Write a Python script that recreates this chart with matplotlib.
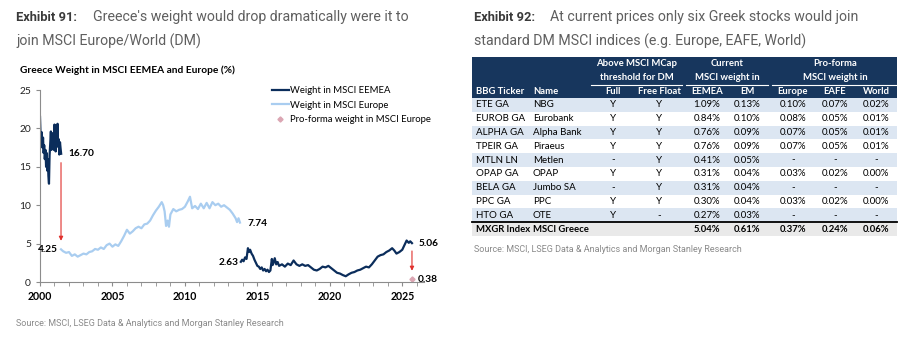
import matplotlib
matplotlib.use('Agg')
import matplotlib.pyplot as plt
from matplotlib import font_manager
from matplotlib.patches import Rectangle

W, H = 912, 354

# ---- chart data (decimal years, % weight) ----
eemea_early_x = [2000.0, 2000.04, 2000.08, 2000.12, 2000.17, 2000.21, 2000.25, 2000.29, 2000.33,
                 2000.38, 2000.42, 2000.46, 2000.5, 2000.54, 2000.58, 2000.62, 2000.66, 2000.7,
                 2000.75, 2000.79, 2000.83, 2000.88, 2000.92, 2000.96, 2001.0, 2001.04, 2001.08,
                 2001.13, 2001.17, 2001.21, 2001.25, 2001.29, 2001.33, 2001.38, 2001.42, 2001.46]
eemea_early_y = [21.5, 19.0, 18.2, 19.5, 17.5, 18.8, 16.8, 17.8, 16.0,
                 17.2, 15.0, 16.8, 14.5, 16.0, 13.8, 12.8, 16.5, 17.8,
                 19.6, 17.2, 19.4, 17.8, 19.0, 17.2, 20.5, 18.0, 17.0,
                 20.4, 18.4, 20.6, 17.6, 18.6, 16.6, 18.2, 17.4, 16.7]

europe_x = [2001.45, 2001.6, 2001.8, 2002.0, 2002.2, 2002.4, 2002.6, 2002.8, 2003.0, 2003.2,
            2003.4, 2003.6, 2003.8, 2004.0, 2004.2, 2004.4, 2004.6, 2004.8, 2005.0, 2005.2,
            2005.4, 2005.6, 2005.8, 2006.0, 2006.2, 2006.4, 2006.6, 2006.8, 2007.0, 2007.2,
            2007.4, 2007.6, 2007.8, 2008.0, 2008.2, 2008.4, 2008.5, 2008.6, 2008.7, 2008.8,
            2008.9, 2009.0, 2009.2, 2009.4, 2009.6, 2009.8, 2010.0, 2010.2, 2010.35, 2010.5,
            2010.7, 2010.9, 2011.1, 2011.3, 2011.5, 2011.7, 2011.9, 2012.1, 2012.3, 2012.5,
            2012.7, 2012.9, 2013.1, 2013.3, 2013.5, 2013.6, 2013.7, 2013.8]
europe_y = [4.25, 4.0, 3.8, 3.9, 3.4, 3.6, 3.3, 3.5, 3.7, 3.6,
            3.9, 4.0, 4.3, 4.2, 4.5, 4.3, 4.8, 5.0, 4.6, 4.9,
            4.7, 5.3, 6.0, 6.8, 6.3, 6.6, 7.0, 7.2, 7.0, 7.5,
            7.6, 8.0, 8.7, 9.3, 9.8, 10.4, 10.0, 9.2, 7.3, 8.0,
            7.2, 8.8, 9.5, 9.2, 9.4, 9.5, 9.8, 10.5, 11.1, 9.6,
            9.9, 9.5, 10.2, 9.6, 10.3, 9.6, 10.4, 10.0, 10.2, 9.8,
            10.0, 9.7, 9.4, 8.9, 8.3, 7.8, 8.3, 7.74]

eemea_late_x = [2013.86, 2013.95, 2014.05, 2014.15, 2014.25, 2014.35, 2014.42, 2014.5, 2014.6, 2014.7,
                2014.8, 2014.9, 2015.0, 2015.1, 2015.2, 2015.3, 2015.4, 2015.5, 2015.6, 2015.7,
                2015.8, 2015.9, 2016.0, 2016.05, 2016.1, 2016.2, 2016.3, 2016.4, 2016.5, 2016.7,
                2016.9, 2017.1, 2017.3, 2017.5, 2017.7, 2017.9, 2018.1, 2018.3, 2018.5, 2018.7,
                2018.9, 2019.1, 2019.3, 2019.5, 2019.7, 2019.9, 2020.1, 2020.3, 2020.5, 2020.7,
                2020.9, 2021.1, 2021.3, 2021.5, 2021.7, 2021.9, 2022.1, 2022.3, 2022.5, 2022.7,
                2022.9, 2023.1, 2023.3, 2023.5, 2023.7, 2023.9, 2024.1, 2024.3, 2024.45, 2024.6,
                2024.8, 2025.0, 2025.15, 2025.3, 2025.45, 2025.55, 2025.67]
eemea_late_y = [2.63, 2.9, 2.7, 3.2, 3.0, 4.4, 3.9, 4.2, 3.7, 3.4,
                2.9, 2.5, 2.1, 2.0, 1.7, 1.9, 1.5, 1.7, 1.4, 1.6,
                1.3, 1.5, 3.0, 2.2, 2.4, 3.1, 2.3, 2.6, 2.1, 2.3,
                2.0, 2.4, 2.2, 2.8, 2.3, 2.1, 2.3, 2.1, 2.2, 1.9,
                1.6, 1.5, 1.7, 2.0, 1.9, 2.1, 1.8, 1.5, 1.2, 1.1,
                0.9, 0.75, 1.0, 1.2, 1.3, 1.5, 1.6, 1.8, 2.0, 1.9,
                2.3, 2.8, 3.3, 3.5, 3.6, 3.9, 4.1, 4.4, 4.1, 3.7,
                3.9, 4.2, 4.8, 5.4, 5.1, 5.3, 5.06]

proforma_x = [2025.7]
proforma_y = [0.38]

# ---- table data ----
tickers = ['ETE GA', 'EUROB GA', 'ALPHA GA', 'TPEIR GA', 'MTLN LN', 'OPAP GA', 'BELA GA', 'PPC GA', 'HTO GA']
names = ['NBG', 'Eurobank', 'Alpha Bank', 'Piraeus', 'Metlen', 'OPAP', 'Jumbo SA', 'PPC', 'OTE']
full = ['Y', 'Y', 'Y', 'Y', '-', 'Y', '-', 'Y', 'Y']
free_float = ['Y', 'Y', 'Y', 'Y', 'Y', 'Y', 'Y', 'Y', '-']
w_eemea = [1.09, 0.84, 0.76, 0.76, 0.41, 0.31, 0.31, 0.30, 0.27]
w_em = [0.13, 0.10, 0.09, 0.09, 0.05, 0.04, 0.04, 0.04, 0.03]
w_europe = [0.10, 0.08, 0.07, 0.07, None, 0.03, None, 0.03, None]
w_eafe = [0.07, 0.05, 0.05, 0.05, None, 0.02, None, 0.02, None]
w_world = [0.02, 0.01, 0.01, 0.01, None, 0.00, None, 0.00, None]
total_row = ['MXGR Index', 'MSCI Greece', '', '', 5.04, 0.61, 0.37, 0.24, 0.06]

NAVY = '#0b2d5b'
LIGHT = '#a9cdf0'
RED = '#e0302c'

# narrow face for the table if there is one, otherwise Lato
installed = {f.name for f in font_manager.fontManager.ttflist}
if 'Liberation Sans Narrow' in installed:
    TFONT, TSIZE, TBSIZE = 'Liberation Sans Narrow', 8.0, 7.8
else:
    TFONT, TSIZE, TBSIZE = 'Lato', 7.0, 6.8

fig = plt.figure(figsize=(W / 100, H / 100), dpi=100)


def fx(px):
    return px / W


def fy(py):
    return 1 - py / H


# ---- titles ----
title_kw = dict(fontfamily='Roboto', fontsize=10.2, color='#5f5f5f', va='baseline')
bold_kw = dict(fontfamily='Roboto', fontweight='bold', fontsize=9.3, color='#3a3a3a', va='baseline')
fig.text(fx(16), fy(21), 'Exhibit 91:', **bold_kw)
fig.text(fx(93), fy(21), "Greece's weight would drop dramatically were it to", **title_kw)
fig.text(fx(16), fy(46), 'join MSCI Europe/World (DM)', **title_kw)
fig.text(fx(474), fy(21), 'Exhibit 92:', **bold_kw)
fig.text(fx(550), fy(21), 'At current prices only six Greek stocks would join', **title_kw)
fig.text(fx(474), fy(46), 'standard DM MSCI indices (e.g. Europe, EAFE, World)', **title_kw)
fig.text(fx(20), fy(70), 'Greece Weight in MSCI EEMEA and Europe (%)', fontfamily='Lato',
         fontweight='bold', fontsize=7.3, color='black', va='center')
fig.text(fx(16), fy(323), 'Source: MSCI, LSEG Data & Analytics and Morgan Stanley Research',
         fontfamily='Roboto', fontsize=6.5, color='#8a8a8a', va='center')
fig.text(fx(474), fy(250), 'Source: MSCI, LSEG Data & Analytics and Morgan Stanley Research',
         fontfamily='Roboto', fontsize=6.5, color='#8a8a8a', va='center')

# ---- line chart ----
ax = fig.add_axes([fx(40), fy(282), (424 - 40) / W, (282 - 90) / H])
ax.plot(eemea_early_x, eemea_early_y, color=NAVY, lw=1.6, label='Weight in MSCI EEMEA')
ax.plot(eemea_late_x, eemea_late_y, color=NAVY, lw=1.6)
ax.plot(europe_x, europe_y, color=LIGHT, lw=1.6, label='Weight in MSCI Europe')
ax.plot(proforma_x, proforma_y, ls='none', marker='D', ms=2.6, color='#dba6b3',
        label='Pro-forma weight in MSCI Europe')

ax.set_xlim(2000, 2026.5)
ax.set_ylim(0, 25)
ax.set_xticks([2000, 2005, 2010, 2015, 2020, 2025])
ax.set_xticks(range(2000, 2027), minor=True)
ax.set_yticks([0, 5, 10, 15, 20, 25])
for s in ['top', 'right']:
    ax.spines[s].set_visible(False)
for s in ['left', 'bottom']:
    ax.spines[s].set_color('#8c8c8c')
    ax.spines[s].set_linewidth(0.8)
ax.tick_params(axis='both', colors='#8c8c8c', length=3, width=0.8)
ax.tick_params(axis='x', which='minor', colors='#8c8c8c', length=3, width=0.6)
for lab in ax.get_xticklabels():
    lab.set_fontfamily('Lato')
    lab.set_fontweight('bold')
    lab.set_fontsize(7.6)
    lab.set_color('black')
for lab in ax.get_yticklabels():
    lab.set_fontfamily('Lato')
    lab.set_fontsize(7.4)
    lab.set_color('#222222')

# drop arrows
ax.annotate('', xy=(2001.45, 5.0), xytext=(2001.45, 15.9),
            arrowprops=dict(arrowstyle='-|>', color=RED, lw=0.8, mutation_scale=6))
ax.annotate('', xy=(2025.67, 1.1), xytext=(2025.67, 4.4),
            arrowprops=dict(arrowstyle='-|>', color=RED, lw=0.8, mutation_scale=6))

lab_kw = dict(fontfamily='Lato', fontweight='bold', fontsize=7.3, color='black', va='center')
ax.text(2001.95, 16.7, '16.70', ha='left', **lab_kw)
ax.text(2001.25, 4.2, '4.25', ha='right', **lab_kw)
ax.text(2014.35, 7.6, '7.74', ha='left', **lab_kw)
ax.text(2013.7, 2.5, '2.63', ha='right', **lab_kw)
ax.text(2026.1, 5.0, '5.06', ha='left', **lab_kw)
ax.text(2026.1, 0.3, '0.38', ha='left', **lab_kw)

leg = ax.legend(loc='upper left', bbox_to_anchor=((268 - 40) / 384, 1.04), frameon=False,
                prop={'family': 'Lato', 'size': 6.8}, handlelength=1.8, handletextpad=0.1,
                labelspacing=0.6, borderaxespad=0)

# ---- table ----
tx = fig.add_axes([0, 0, 1, 1])
tx.set_xlim(0, W)
tx.set_ylim(H, 0)
tx.axis('off')

T_LEFT, T_RIGHT = 472, 897
HEAD_TOP, HEAD_BOT = 57, 98
ROW_H = 13.8
n = len(tickers)

tx.add_patch(Rectangle((T_LEFT, HEAD_TOP), T_RIGHT - T_LEFT, HEAD_BOT - HEAD_TOP, color='#17365d', lw=0))
for i in range(n + 1):
    y0 = HEAD_BOT + ROW_H * i
    if i == n:
        c = '#e9e9e9'
    elif i % 2 == 0:
        c = '#dce6f2'
    else:
        c = 'white'
    tx.add_patch(Rectangle((T_LEFT, y0), T_RIGHT - T_LEFT, ROW_H, color=c, lw=0))
tx.plot([T_LEFT, T_RIGHT], [HEAD_BOT + ROW_H * n] * 2, color='black', lw=1.3)

col_x = [476, 533, 613, 659, 707, 747, 793, 835, 876]
col_ha = ['left', 'left'] + ['center'] * 7
col_heads = ['BBG Ticker', 'Name', 'Full', 'Free Float', 'EEMEA', 'EM', 'Europe', 'EAFE', 'World']

hk = dict(fontfamily=TFONT, fontweight='bold', fontsize=TBSIZE, color='white', va='center')
for x, ha, t in zip(col_x, col_ha, col_heads):
    tx.text(x, 91.5, t, ha=ha, **hk)
groups = [(637, 591, 682, 'Above MSCI MCap', 'threshold for DM'),
          (727, 686, 768, 'Current', 'MSCI weight in'),
          (835, 772, 897, 'Pro-forma', 'MSCI weight in')]
for cx, x0, x1, l1, l2 in groups:
    tx.text(cx, 63.5, l1, ha='center', **hk)
    tx.text(cx, 77.5, l2, ha='center', **hk)
    tx.plot([x0, x1], [84.5, 84.5], color='white', lw=0.8)


def pct(v):
    return '-' if v is None else f'{v:.2f}%'


rk = dict(fontfamily=TFONT, fontsize=TSIZE, color='black', va='center')
for i in range(n):
    yc = HEAD_BOT + ROW_H * (i + 0.5)
    cells = [tickers[i], names[i], full[i], free_float[i], pct(w_eemea[i]), pct(w_em[i]),
             pct(w_europe[i]), pct(w_eafe[i]), pct(w_world[i])]
    for x, ha, t in zip(col_x, col_ha, cells):
        tx.text(x, yc, t, ha=ha, **rk)
yc = HEAD_BOT + ROW_H * (n + 0.5)
tk = dict(rk, fontsize=TBSIZE, fontweight='bold')
for x, ha, t in zip(col_x, col_ha, total_row):
    if isinstance(t, float):
        t = pct(t)
    tx.text(x, yc, t, ha=ha, **tk)

fig.savefig('out.png', dpi=100)
